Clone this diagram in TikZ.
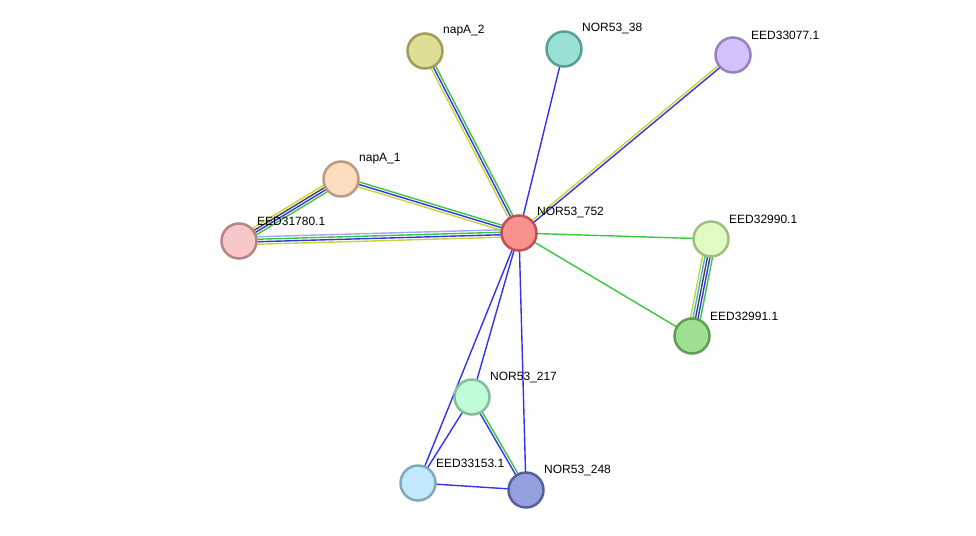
\documentclass[tikz,border=0pt]{standalone}
\usepackage{fontspec}
\setmainfont{Liberation Sans}
\usepackage{xcolor}
\usetikzlibrary{calc}
\usetikzlibrary{backgrounds}

\definecolor{tmine}{RGB}{199,212,54}
\definecolor{cooc}{RGB}{50,50,240}
\definecolor{nbhd}{RGB}{56,200,56}
\definecolor{coexp}{RGB}{70,70,70}
\definecolor{dbase}{RGB}{60,180,230}
\definecolor{homol}{RGB}{165,165,250}

\tikzstyle{protein} = [circle, minimum size=35pt, inner sep=0pt, line width=2.5pt]
\tikzstyle{protlabel} = [anchor=west, inner sep=0pt, font=\fontsize{12}{14}\selectfont]
\tikzstyle{link} = [line width=1.4pt]

% parallel links between two proteins, one per evidence colour
\newcommand{\multilink}[3]{%
  \foreach \col [count=\k] in {#3} {\xdef\nlinks{\k}}
  \foreach \col [count=\k] in {#3} {
    \pgfmathsetmacro{\off}{(\k-(\nlinks+1)/2)*2.5}
    \draw[link, \col] ($(#1.center)!\off pt!90:(#2.center)$) -- ($(#2.center)!\off pt!-90:(#1.center)$);
  }
}

\begin{document}
\begin{tikzpicture}[x=1pt, y=-1pt]
  \useasboundingbox (0,0) rectangle (976,535);

  \node[protein, fill={rgb,255:red,250;green,145;blue,145}, draw={rgb,255:red,192;green,80;blue,80}] (p752) at (519,233) {};
  \node[protein, fill={rgb,255:red,222;green,222;blue,149}, draw={rgb,255:red,158;green,158;blue,90}] (napA2) at (425,51) {};
  \node[protein, fill={rgb,255:red,153;green,224;blue,214}, draw={rgb,255:red,90;green,158;blue,150}] (p38) at (564,49) {};
  \node[protein, fill={rgb,255:red,212;green,194;blue,252}, draw={rgb,255:red,149;green,131;blue,192}] (e33077) at (733,55) {};
  \node[protein, fill={rgb,255:red,253;green,221;blue,192}, draw={rgb,255:red,188;green,155;blue,126}] (napA1) at (341,179) {};
  \node[protein, fill={rgb,255:red,248;green,199;blue,199}, draw={rgb,255:red,181;green,133;blue,133}] (e31780) at (239,241) {};
  \node[protein, fill={rgb,255:red,224;green,252;blue,194}, draw={rgb,255:red,161;green,189;blue,130}] (e32990) at (711,239) {};
  \node[protein, fill={rgb,255:red,160;green,224;blue,147}, draw={rgb,255:red,94;green,158;blue,82}] (e32991) at (692,336) {};
  \node[protein, fill={rgb,255:red,192;green,252;blue,216}, draw={rgb,255:red,130;green,190;blue,154}] (p217) at (472,397) {};
  \node[protein, fill={rgb,255:red,194;green,232;blue,252}, draw={rgb,255:red,130;green,168;blue,188}] (e33153) at (418,483) {};
  \node[protein, fill={rgb,255:red,150;green,160;blue,222}, draw={rgb,255:red,86;green,95;blue,158}] (p248) at (526,490) {};

  \node[protlabel] (l752) at ($(p752)+(18,-20)$) {NOR53\_752};
  \node[protlabel] (lnapA2) at ($(napA2)+(18,-20)$) {napA\_2};
  \node[protlabel] (l38) at ($(p38)+(18,-20)$) {NOR53\_38};
  \node[protlabel] (l33077) at ($(e33077)+(18,-20)$) {EED33077.1};
  \node[protlabel] (lnapA1) at ($(napA1)+(18,-20)$) {napA\_1};
  \node[protlabel] (l31780) at ($(e31780)+(18,-20)$) {EED31780.1};
  \node[protlabel] (l32990) at ($(e32990)+(18,-20)$) {EED32990.1};
  \node[protlabel] (l32991) at ($(e32991)+(18,-20)$) {EED32991.1};
  \node[protlabel] (l217) at ($(p217)+(18,-20)$) {NOR53\_217};
  \node[protlabel] (l33153) at ($(e33153)+(18,-20)$) {EED33153.1};
  \node[protlabel] (l248) at ($(p248)+(18,-20)$) {NOR53\_248};

  \begin{scope}[on background layer]
    \multilink{napA2}{p752}{tmine,cooc,nbhd}
    \multilink{p38}{p752}{cooc}
    \multilink{p752}{e33077}{cooc,tmine}
    \multilink{napA1}{p752}{tmine,cooc,nbhd}
    \multilink{e31780}{p752}{tmine,cooc,nbhd,homol}
    \multilink{e31780}{napA1}{nbhd,cooc,coexp,tmine}
    \multilink{p752}{e32990}{nbhd}
    \multilink{p752}{e32991}{nbhd}
    \multilink{e32990}{e32991}{tmine,dbase,coexp,cooc,nbhd}
    \multilink{p752}{p217}{cooc}
    \multilink{p752}{e33153}{cooc}
    \multilink{p752}{p248}{cooc}
    \multilink{p217}{e33153}{cooc}
    \multilink{p217}{p248}{cooc,nbhd}
    \multilink{e33153}{p248}{cooc}
  \end{scope}
\end{tikzpicture}
\end{document}
